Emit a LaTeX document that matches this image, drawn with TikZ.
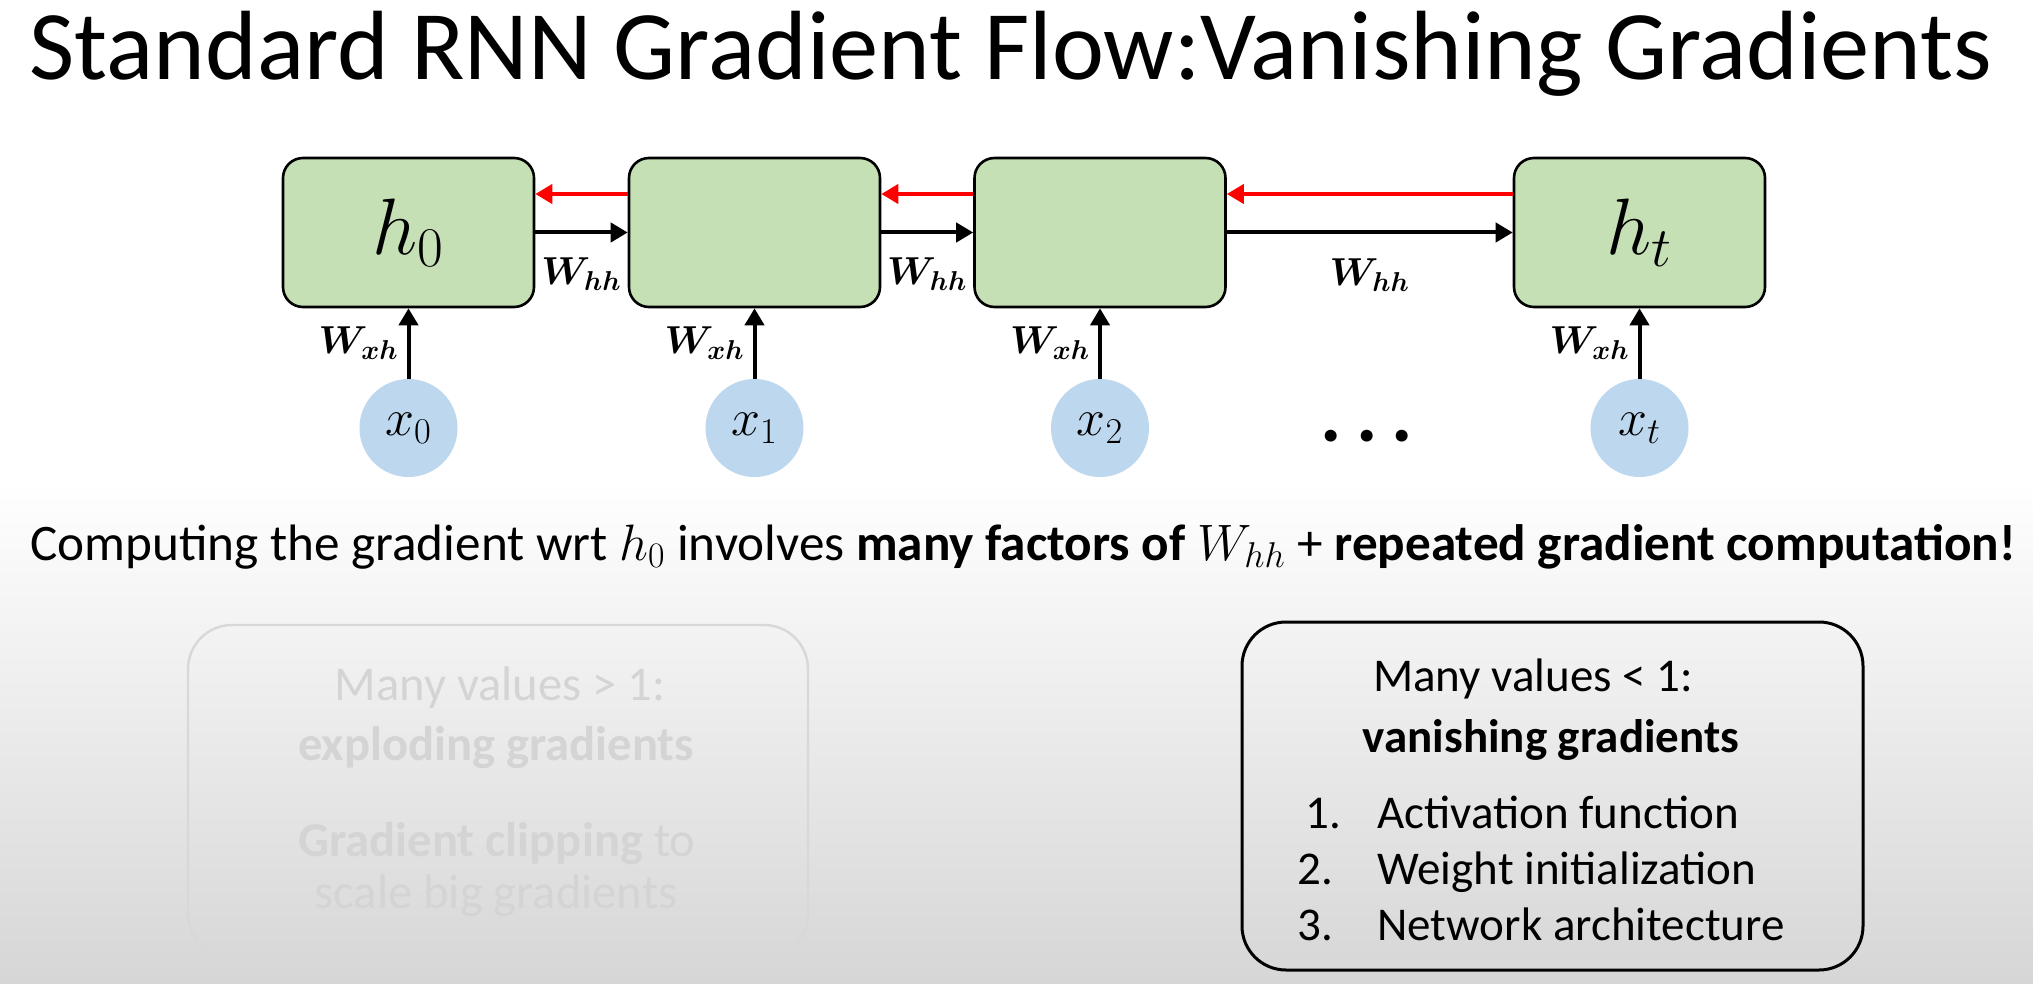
\RequirePackage{fix-cm}
\documentclass[tikz,border=0pt]{standalone}
\usepackage{amsmath,bm}
\usepackage{fontspec}
\setmainfont{Carlito}
\usetikzlibrary{arrows.meta}
\definecolor{cellgreen}{HTML}{C5E0B4}
\definecolor{inblue}{HTML}{BDD7EE}
\definecolor{fadetext}{HTML}{D4D4D4}
\definecolor{fadeline}{HTML}{D8D8D8}
\definecolor{bgbottom}{HTML}{D6D6D6}
\begin{document}
\begin{tikzpicture}[x=0.5pt,y=-0.5pt,
  cell/.style={draw=black,line width=1.3pt,fill=cellgreen,rounded corners=10pt,
    minimum width=125.5pt,minimum height=74.5pt,inner sep=0pt,font=\fontsize{40}{44}\selectfont},
  inp/.style={circle,fill=inblue,minimum size=49pt,inner sep=0pt,font=\fontsize{26}{30}\selectfont},
  fwd/.style={line width=2pt,-{Triangle[length=8.5pt,width=9.5pt]}},
  bwd/.style={draw=red,line width=2pt,-{Triangle[length=8.5pt,width=9.5pt]}},
  wlab/.style={font=\fontsize{19.5}{22}\selectfont,inner sep=1pt},
  sumbox/.style={rounded corners=22pt,inner sep=0pt},
  txt/.style={anchor=base,inner sep=0pt,font=\fontsize{23.5}{28}\selectfont},
]
\useasboundingbox (0,0) rectangle (2033,984);
\fill[white] (0,0) rectangle (2033,984);
\shade[top color=white,bottom color=bgbottom] (0,480) rectangle (2033,984);

% title
\node[anchor=base,inner sep=0pt,font=\fontsize{49.2}{56}\selectfont] (title) at (1011,80)
  {Standard RNN Gradient Flow:Vanishing Gradients};

% cells
\node[cell] (h0) at (408.5,232.5) {$h_0$};
\node[cell] (c1) at (754.5,232.5) {};
\node[cell] (c2) at (1100,232.5) {};
\node[cell] (ht) at (1639.5,232.5) {$h_t$};

% inputs
\node[inp] (x0) at (408.5,428) {$x_0$};
\node[inp] (x1) at (754.5,428) {$x_1$};
\node[inp] (x2) at (1100,428) {$x_2$};
\node[inp] (xt) at (1639.5,428) {$x_t$};

\node[anchor=base,inner sep=0pt,font=\fontsize{40}{40}\bfseries] (dots) at (1367,441)
  {.\hspace{7pt}.\hspace{7pt}.};

% forward arrows
\draw[fwd] (h0.east) -- (c1.west) node[midway,below=10.5pt,wlab] {$\boldsymbol{W}_{\boldsymbol{hh}}$};
\draw[fwd] (c1.east) -- (c2.west) node[midway,below=10.5pt,wlab] {$\boldsymbol{W}_{\boldsymbol{hh}}$};
\draw[fwd] (c2.east) -- (ht.west) node[midway,below=11pt,wlab] {$\boldsymbol{W}_{\boldsymbol{hh}}$};

% backward (red) arrows
\draw[bwd] ([yshift=19.25pt]c1.west) -- ([yshift=19.25pt]h0.east);
\draw[bwd] ([yshift=19.25pt]c2.west) -- ([yshift=19.25pt]c1.east);
\draw[bwd] ([yshift=19.25pt]ht.west) -- ([yshift=19.25pt]c2.east);

% input arrows
\draw[fwd] (x0.north) -- (h0.south) node[midway,left=3pt,wlab] {$\boldsymbol{W}_{\boldsymbol{xh}}$};
\draw[fwd] (x1.north) -- (c1.south) node[midway,left=3pt,wlab] {$\boldsymbol{W}_{\boldsymbol{xh}}$};
\draw[fwd] (x2.north) -- (c2.south) node[midway,left=3pt,wlab] {$\boldsymbol{W}_{\boldsymbol{xh}}$};
\draw[fwd] (xt.north) -- (ht.south) node[midway,left=3pt,wlab] {$\boldsymbol{W}_{\boldsymbol{xh}}$};

% sentence
\node[anchor=base,inner sep=0pt,font=\fontsize{25.6}{30}\selectfont] (sent) at (1023,560)
  {Computing the gradient wrt $h_0$ involves \textbf{many factors of} $W_{hh}$ + \textbf{repeated gradient computation!}};

% left (faded) box
\node[sumbox,draw=fadeline,line width=1.2pt,minimum width=310pt,minimum height=166pt] (lbox) at (498,791) {};
\begin{scope}[every node/.style={txt,text=fadetext,font=\fontsize{24.3}{28}\selectfont}]
\node (l1) at (500,700) {Many values > 1:};
\node (l2) at (496,760) {\bfseries exploding gradients};
\node (l3) at (497,856) {\textbf{Gradient clipping} to};
\node (l4) at (496,908) {scale big gradients};
\end{scope}

% right box
\node[sumbox,draw=black,line width=1.5pt,minimum width=310.5pt,minimum height=174pt] (rbox) at (1552.5,796) {};
\node[txt] (r1) at (1533,691) {Many values < 1:};
\node[txt] (r2) at (1551,752) {\bfseries vanishing gradients};
\node[txt,anchor=base west] (n1) at (1305,828) {1.};
\node[txt,anchor=base west] (i1) at (1377,828) {Activation function};
\node[txt,anchor=base west] (n2) at (1297,884) {2.};
\node[txt,anchor=base west] (i2) at (1377,884) {Weight initialization};
\node[txt,anchor=base west] (n3) at (1297,940) {3.};
\node[txt,anchor=base west] (i3) at (1377,940) {Network architecture};
\end{tikzpicture}
\end{document}
